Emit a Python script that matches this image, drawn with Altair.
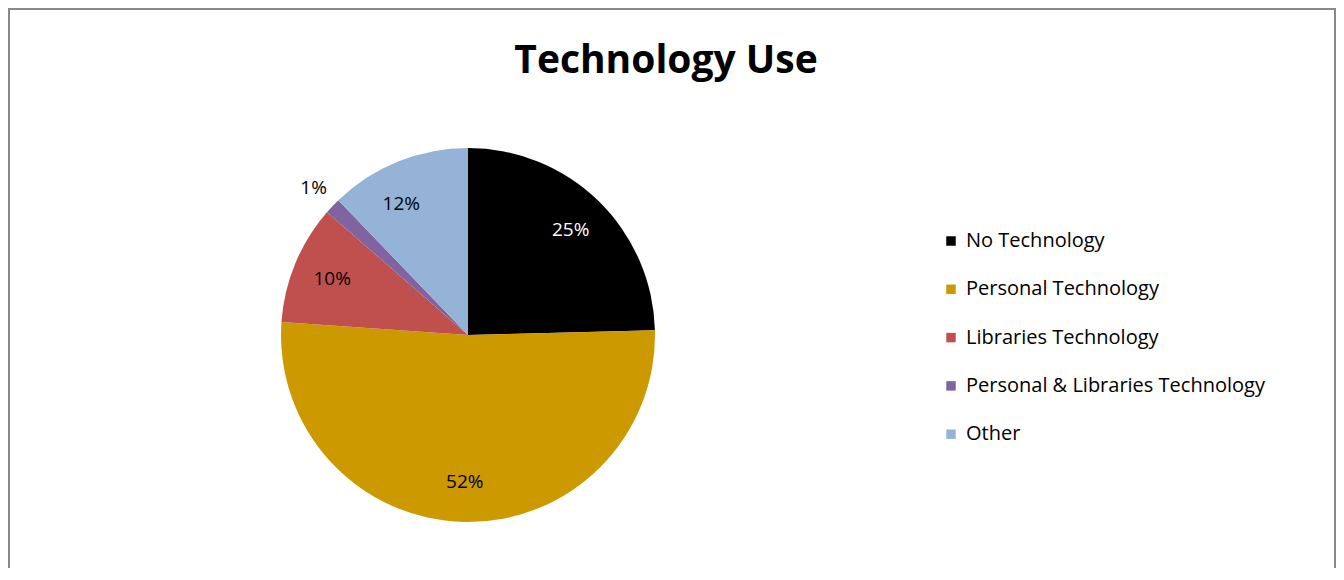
import altair as alt
import pandas as pd

categories = ["No Technology", "Personal Technology", "Libraries Technology",
              "Personal & Libraries Technology", "Other"]
values = [24.6, 51.5, 10.3, 1.4, 12.2]
labels = ["25%", "52%", "10%", "1%", "12%"]
colors = ["#000000", "#CC9900", "#C0504D", "#8064A2", "#95B3D7"]
label_colors = ["#FFFFFF", "#000000", "#000000", "#000000", "#000000"]
outside = [False, False, False, True, False]

df = pd.DataFrame({
    "category": categories,
    "value": values,
    "label": labels,
    "lcolor": label_colors,
    "outside": outside,
    "idx": list(range(len(categories))),
})

CX, CY, R = 460, 327, 187
FONT = "Open Sans"

base = alt.Chart(df).encode(
    theta=alt.Theta("value:Q", stack=True),
    order=alt.Order("idx:Q"),
)

pie = base.mark_arc(outerRadius=R, stroke=None).encode(
    x=alt.value(CX), y=alt.value(CY),
    color=alt.Color(
        "category:N",
        scale=alt.Scale(domain=categories, range=colors),
        sort=categories,
        legend=alt.Legend(
            title=None, orient="none", legendX=933, legendY=223,
            symbolType="square", symbolSize=90, symbolStrokeWidth=0,
            labelFont=FONT, labelFontSize=20, labelColor="#000000",
            labelOffset=5, rowPadding=28.3, labelLimit=500,
        ),
    ),
)

inside_text = base.transform_filter("!datum.outside").mark_text(
    radius=147, font=FONT, fontSize=19
).encode(
    x=alt.value(CX), y=alt.value(CY),
    text="label:N",
    color=alt.Color("lcolor:N", scale=None),
)

outside_text = base.mark_text(
    radius=213, font=FONT, fontSize=19
).encode(
    x=alt.value(CX), y=alt.value(CY),
    text="label:N",
    color=alt.Color("lcolor:N", scale=None),
    opacity=alt.condition("datum.outside", alt.value(1), alt.value(0)),
)

title = alt.Chart(pd.DataFrame({"t": ["Technology Use"]})).mark_text(
    font=FONT, fontSize=39, fontWeight="bold", color="#000000", baseline="alphabetic"
).encode(text="t:N", x=alt.value(658), y=alt.value(65))

border_df = pd.DataFrame({"k": [0]})
bl = alt.Chart(border_df).mark_rule(color="#888888", strokeWidth=2).encode(
    x=alt.value(1), y=alt.value(0), y2=alt.value(600))
bt = alt.Chart(border_df).mark_rule(color="#888888", strokeWidth=2).encode(
    x=alt.value(0), x2=alt.value(1328), y=alt.value(1))
br = alt.Chart(border_df).mark_rule(color="#888888", strokeWidth=2).encode(
    x=alt.value(1327), y=alt.value(0), y2=alt.value(600))

chart = alt.layer(pie, inside_text, outside_text, title, bl, bt, br).properties(
    width=1328, height=560,
    autosize=alt.AutoSizeParams(type="none"),
    padding=0,
).configure_view(stroke=None).configure(background="#FFFFFF")

chart.save("out.html", embed_options={"renderer": "svg", "actions": False})
